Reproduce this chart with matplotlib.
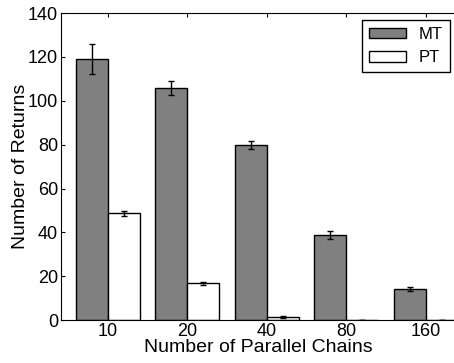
import matplotlib
matplotlib.use('Agg')
import matplotlib.pyplot as plt
import numpy as np

plt.rcParams['font.family'] = ['Liberation Sans', 'DejaVu Sans']

chains = ['10', '20', '40', '80', '160']
mt_vals = [119, 106, 80, 38.8, 14.2]
mt_err = [7, 3.2, 1.8, 2.0, 0.8]
pt_vals = [48.7, 16.8, 1.5, 0.15, 0.15]
pt_err = [1.2, 0.8, 0.3, 0.1, 0.1]

fig = plt.figure(figsize=(4.54, 3.63), dpi=100)
ax = fig.add_axes([0.134, 0.118, 0.872, 0.846])

x = np.arange(len(chains))
w = 0.4
err_kw = dict(ecolor='black', elinewidth=1, capsize=2.5, capthick=1)
ax.bar(x - w / 2, mt_vals, w, yerr=mt_err, color='#808080', edgecolor='black',
       linewidth=1, error_kw=err_kw, label='MT')
ax.bar(x + w / 2, pt_vals, w, yerr=pt_err, color='white', edgecolor='black',
       linewidth=1, error_kw=err_kw, label='PT')

ax.set_xlim(-0.59, 4.39)
ax.set_ylim(0, 140)
ax.set_xticks(x)
ax.set_xticklabels(chains)
ax.set_yticks(range(0, 141, 20))
ax.tick_params(direction='in', length=3, labelsize=13, pad=2, top=True, right=False)
ax.set_xlabel('Number of Parallel Chains', fontsize=14, labelpad=-1)
ax.set_ylabel('Number of Returns', fontsize=14, labelpad=-1)

leg = ax.legend(loc='upper right', bbox_to_anchor=(0.982, 0.977), borderaxespad=0,
                fancybox=False, edgecolor='black', framealpha=1, fontsize=12,
                handlelength=2.2, handleheight=0.6)
leg.get_frame().set_linewidth(1)

fig.savefig('out.png', dpi=100)
